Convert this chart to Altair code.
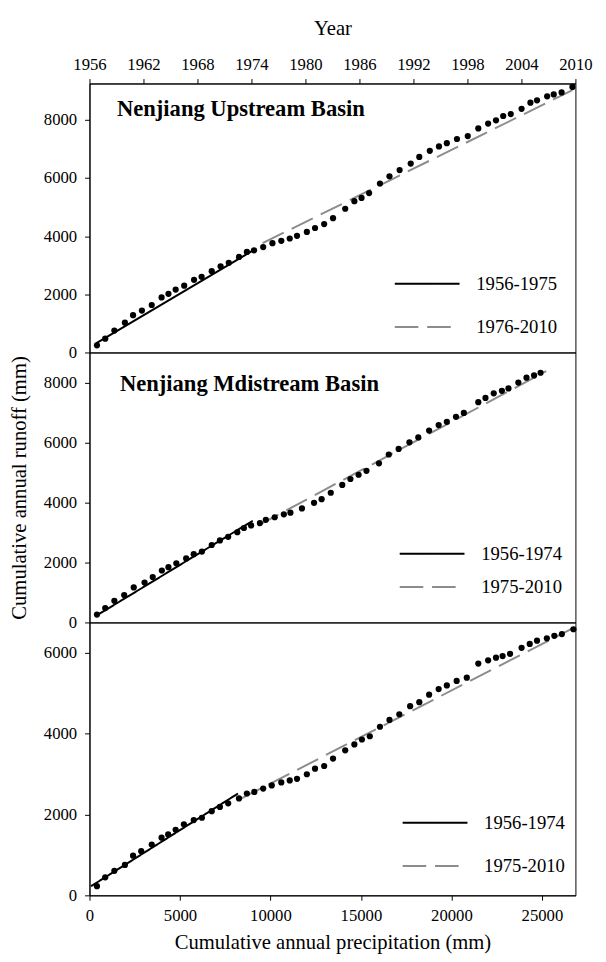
import altair as alt
import pandas as pd

# ---------------- data ----------------
X_MAX = 26850
X_TICKS = [0, 5000, 10000, 15000, 20000, 25000]
YEAR_TICKS = [1956, 1962, 1968, 1974, 1980, 1986, 1992, 1998, 2004, 2010]

# Panel 1: Nenjiang Upstream Basin
P1_PRECIP = [413, 870, 1375, 1957, 2408, 2897, 3440, 3984, 4364, 4761, 5234, 5777, 6196, 6755,
             7245, 7696, 8261, 8696, 9092, 9598, 10109, 10598, 11065, 11467, 12011, 12462, 12967,
             13457, 14130, 14636, 15033, 15451, 16049, 16576, 17136, 17750, 18223, 18804, 19310,
             19745, 20304, 20902, 21484, 22027, 22462, 22859, 23277, 23875, 24364, 24728, 25288,
             25652, 26087, 26685]
P1_RUNOFF = [247, 473, 753, 1024, 1284, 1442, 1632, 1892, 2017, 2162, 2297, 2500, 2601, 2794,
             2963, 3084, 3287, 3456, 3514, 3625, 3760, 3841, 3919, 4010, 4145, 4280, 4415,
             4618, 4943, 5203, 5314, 5483, 5811, 6057, 6273, 6497, 6723, 6936, 7084,
             7196, 7341, 7443, 7703, 7872, 7983, 8132, 8199, 8378, 8591, 8672, 8807,
             8875, 8943, 9132]
P1_PERIODS = ["1956-1975", "1976-2010"]
P1_LINE_P = [360, 9110, 9565, 26685]
P1_LINE_R = [314, 3537, 3760, 9020]

# Panel 2: Nenjiang Mdistream Basin
P2_PRECIP = [413, 870, 1375, 1918, 2446, 3043, 3495, 4000, 4364, 4799, 5342, 5761, 6212, 6755,
             7207, 7663, 8168, 8533, 8929, 9418, 9745, 10234, 10740, 11103, 11739, 12408, 12826,
             13332, 13967, 14418, 14870, 15304, 15995, 16538, 17082, 17679, 18168, 18766, 19293,
             19745, 20250, 20685, 21484, 21880, 22337, 22788, 23152, 23696, 24147, 24565, 24924]
P2_RUNOFF = [261, 479, 719, 915, 1166, 1329, 1514, 1732, 1841, 1972, 2135, 2277, 2364, 2581,
             2734, 2854, 3007, 3148, 3235, 3311, 3420, 3507, 3605, 3660, 3801, 3987, 4108,
             4324, 4585, 4782, 4924, 5055, 5304, 5598, 5784, 6003, 6167, 6395, 6578,
             6689, 6853, 6984, 7343, 7484, 7637, 7722, 7800, 7996, 8160, 8235, 8324]
P2_PERIODS = ["1956-1974", "1975-2010"]
P2_LINE_P = [326, 9022, 9293, 25234]
P2_LINE_R = [207, 3389, 3225, 8377]

# Panel 3 (no title)
P3_PRECIP = [413, 870, 1375, 1957, 2408, 2859, 3440, 3984, 4348, 4761, 5217, 5761, 6212, 6755,
             7207, 7663, 8261, 8696, 9109, 9598, 10071, 10598, 11065, 11467, 12011, 12462, 12967,
             13457, 14130, 14636, 15054, 15489, 16049, 16576, 17120, 17717, 18223, 18766, 19293,
             19745, 20288, 20848, 21484, 22027, 22462, 22826, 23239, 23875, 24326, 24728, 25272,
             25685, 26103, 26739]
P3_RUNOFF = [226, 445, 607, 753, 980, 1093, 1256, 1426, 1506, 1620, 1756, 1863, 1919, 2082,
             2186, 2276, 2397, 2519, 2558, 2640, 2720, 2793, 2842, 2883, 2995, 3133, 3199,
             3384, 3587, 3733, 3855, 3935, 4170, 4340, 4477, 4680, 4778, 4963, 5101,
             5191, 5303, 5385, 5732, 5813, 5878, 5919, 5975, 6121, 6218, 6298, 6357,
             6420, 6461, 6582]
P3_PERIODS = ["1956-1974", "1975-2010"]
P3_LINE_P = [87, 8207, 8293, 26772]
P3_LINE_R = [226, 2519, 2373, 6624]

FONT = "Liberation Serif"
W = 495
AX = dict(labelFont=FONT, titleFont=FONT, labelFontSize=17, titleFontSize=21,
          titleFontWeight="normal", labelColor="black", titleColor="black",
          tickColor="black", domainColor="black", tickSize=5, grid=False)


def panel(P, R, periods, lp, lr, ymax, yticks, height, title, title_xy,
          leg_xy, rowpad, bottom_axis, top_axis, ytitle):
    pts = pd.DataFrame({"P": P, "R": R})
    ldf = pd.DataFrame({"period": [periods[0]] * 2 + [periods[1]] * 2, "P": lp, "R": lr})
    xs = alt.Scale(domain=[0, X_MAX], nice=False, zero=False)
    ys = alt.Scale(domain=[0, ymax], nice=False)
    if bottom_axis:
        xaxis = alt.Axis(values=X_TICKS, format="d",
                         title="Cumulative annual precipitation (mm)",
                         labelFlush=False, labelPadding=8, titlePadding=8, **AX)
    else:
        xaxis = None
    yaxis = alt.Axis(values=yticks, format="d", title=ytitle, labelPadding=8,
                     titlePadding=14, **AX)

    leg = alt.Legend(orient="none", legendX=leg_xy[0], legendY=leg_xy[1], title=None,
                     symbolType="M-3,0H3", symbolSize=484, symbolStrokeWidth=2,
                     labelFont=FONT, labelFontSize=19, labelOffset=38, rowPadding=rowpad,
                     labelColor="black", padding=0)
    lines = alt.Chart(ldf).mark_line(strokeWidth=2).encode(
        x=alt.X("P:Q", scale=xs, axis=xaxis),
        y=alt.Y("R:Q", scale=ys, axis=yaxis),
        color=alt.Color("period:N", scale=alt.Scale(domain=periods, range=["black", "#8c8c8c"]),
                        legend=leg),
        strokeDash=alt.StrokeDash("period:N",
                                  scale=alt.Scale(domain=periods, range=[[1, 0], [24, 9]]),
                                  legend=leg),
    )
    dots = alt.Chart(pts).mark_circle(size=40, color="black", opacity=1).encode(
        x=alt.X("P:Q", scale=xs, axis=xaxis),
        y=alt.Y("R:Q", scale=ys, axis=yaxis),
    )
    layers = [lines, dots]
    if title:
        tdf = pd.DataFrame({"t": [title]})
        layers.append(alt.Chart(tdf).mark_text(
            align="left", baseline="alphabetic", font=FONT, fontSize=23,
            fontWeight="bold", color="black").encode(
            x=alt.value(title_xy[0]), y=alt.value(title_xy[1]), text="t:N"))
    if top_axis:
        ydf = pd.DataFrame({"Year": [1956, 2010]})
        layers.append(alt.Chart(ydf).mark_point(opacity=0).encode(
            x=alt.X("Year:Q", scale=alt.Scale(domain=[1956, 2010], nice=False, zero=False),
                    axis=alt.Axis(orient="top", values=YEAR_TICKS, format="d", title="Year",
                                  labelFlush=False, labelPadding=5, titlePadding=18, **AX)),
            y=alt.value(0)))
    ch = alt.layer(*layers).properties(width=W, height=height)
    if top_axis:
        ch = ch.resolve_scale(x="independent")
    return ch


p1 = panel(P1_PRECIP, P1_RUNOFF, P1_PERIODS, P1_LINE_P, P1_LINE_R, 9250,
           [0, 2000, 4000, 6000, 8000], 274, "Nenjiang Upstream Basin", (28, 33),
           (332, 192), 22, False, True, "")
p2 = panel(P2_PRECIP, P2_RUNOFF, P2_PERIODS, P2_LINE_P, P2_LINE_R, 9000,
           [0, 2000, 4000, 6000, 8000], 275, "Nenjiang Mdistream Basin", (31, 39),
           (337, 193), 12, False, False, "Cumulative annual runoff (mm)")
p3 = panel(P3_PRECIP, P3_RUNOFF, P3_PERIODS, P3_LINE_P, P3_LINE_R, 6750,
           [0, 2000, 4000, 6000], 278, None, None,
           (340, 192), 22, True, False, "")

chart = alt.vconcat(p1, p2, p3, spacing=0, bounds="flush").resolve_scale(
    x="independent", y="independent", color="independent", strokeDash="independent"
).resolve_legend(color="independent", strokeDash="independent").properties(
    padding={"left": 0, "top": 0, "right": 5, "bottom": 0}
).configure(font=FONT).configure_view(
    stroke="black", strokeWidth=1
).configure_axis(
    labelFont=FONT, titleFont=FONT, grid=False
)

chart.save("out.html", embed_options={"renderer": "svg", "actions": False})
